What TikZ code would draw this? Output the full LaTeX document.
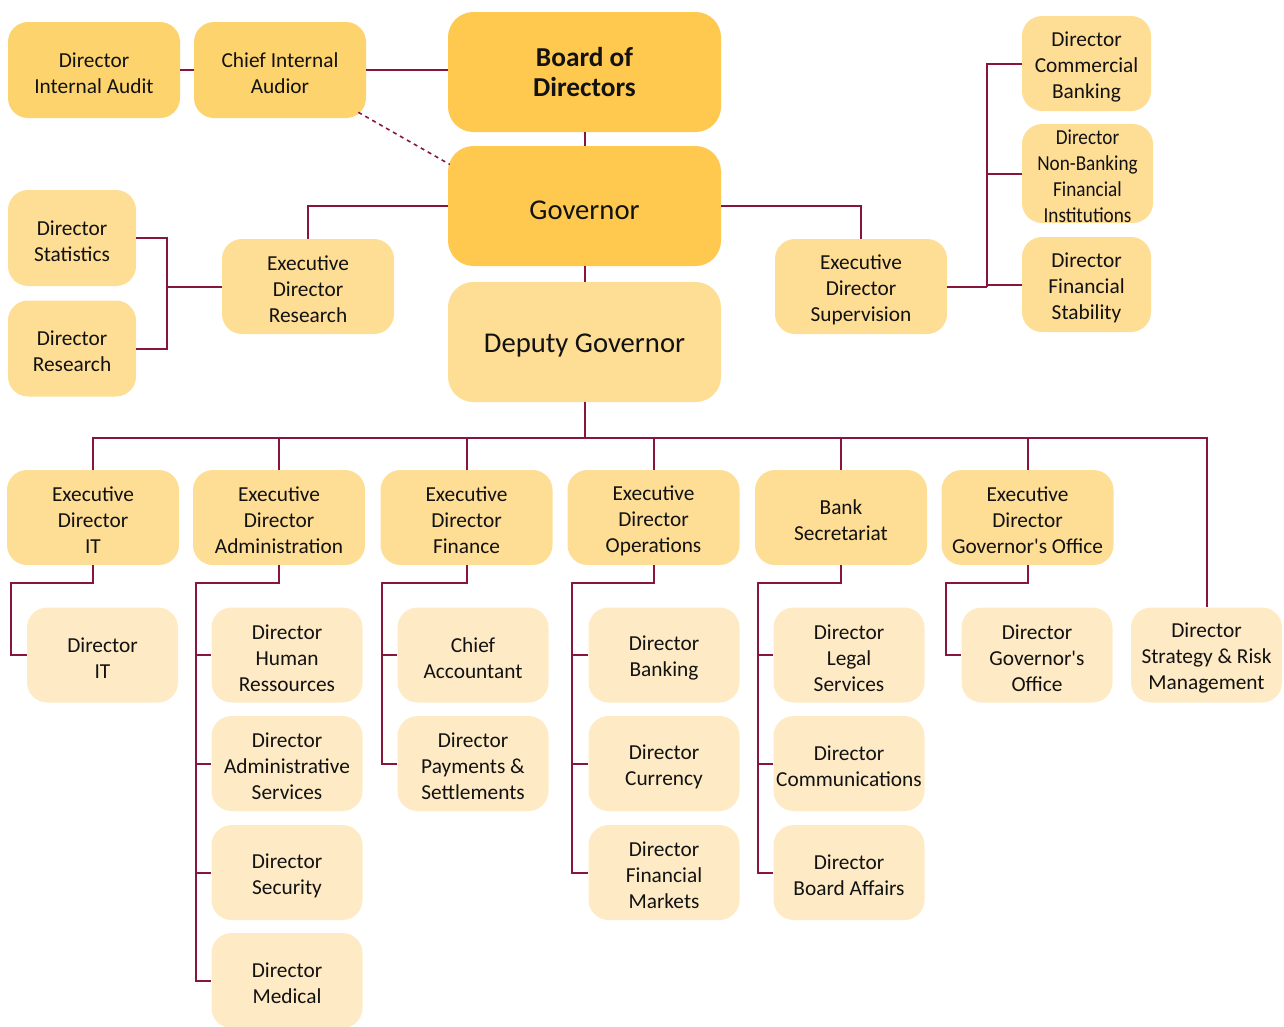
\documentclass[tikz,border=0pt]{standalone}
\usepackage{fontspec}
\setmainfont{Carlito}
\newfontfamily\condfont[FakeStretch=0.9]{Carlito}
\definecolor{cAfill}{HTML}{FFC94F}
\definecolor{cBfill}{HTML}{FDD36D}
\definecolor{cCfill}{HTML}{FEDD95}
\definecolor{cDfill}{HTML}{FEEBC5}
\definecolor{linecol}{HTML}{861640}
\definecolor{txt}{HTML}{121212}
\newcommand{\apo}{\textquotesingle}
\newcommand{\st}{\rule{0pt}{15.5pt}}
\begin{document}
\begin{tikzpicture}[x=0.75pt,y=-0.75pt,
  box/.style={rectangle,rounded corners=15pt,align=center,inner sep=0pt,text=txt,
    font=\fontsize{16}{19.5}\selectfont},
  bigtext/.style={font=\fontsize{21.5}{24}\selectfont,execute at begin node={\rule{0pt}{0.92em}}},
  cA/.style={fill=cAfill},
  cB/.style={fill=cBfill},
  cC/.style={fill=cCfill},
  cD/.style={fill=cDfill},
  big/.style={minimum width=204.75pt,minimum height=90pt,rounded corners=19pt},
  topbox/.style={minimum width=129pt,minimum height=72pt},
  small/.style={minimum width=96pt,minimum height=72pt},
  edbox/.style={minimum width=129pt,minimum height=71.25pt},
  dirbox/.style={minimum width=113.25pt,minimum height=71.25pt},
  conn/.style={draw=linecol,line width=1.5pt},
  dconn/.style={draw=linecol,line width=1.2pt,dashed}]
\useasboundingbox (0,0) rectangle (1284,1026);

% top row
\node[box,cB,topbox] (dia) at (94,70) {\st Director\\Internal Audit};
\node[box,cB,topbox] (cia) at (280,70) {\st Chief Internal\\Audior};
\node[box,cA,big,font=\fontsize{20.5}{22.5}\selectfont\bfseries] (board) at (584.5,72) {Board of\\Directors};
\node[box,cA,big,bigtext] (gov) at (584.5,206) {Governor};
\node[box,cC,big,bigtext] (dep) at (584.5,342) {Deputy Governor};

% left group
\node[box,cC,small] (dstat) at (72,238) {\st Director\\Statistics};
\node[box,cC,small] (dres) at (72,348.5) {\st Director\\Research};
\node[box,cC,edbox] (edr) at (308,286.5) {\st Executive\\Director\\Research};

% right group
\node[box,cC,edbox] (eds) at (861,286.5) {\st Executive\\Director\\Supervision};
\node[box,cC,minimum width=96.75pt,minimum height=71.25pt] (dcb) at (1086.5,63.5) {\st Director\\Commercial\\Banking};
\node[box,cC,minimum width=98.25pt,minimum height=71.25pt,font=\condfont\fontsize{16}{19.5}\selectfont] (dnb) at (1087.5,173.5) {\st Director\\Non-Banking\\Financial\\Institutions};
\node[box,cC,minimum width=96.75pt,minimum height=71.25pt] (dfs) at (1086.5,284.5) {\st Director\\Financial\\Stability};

% executive row
\node[box,cC,edbox] (edit) at (93,517.5) {\st Executive\\Director\\IT};
\node[box,cC,edbox] (edadm) at (279,517.5) {\st Executive\\Director\\Administration};
\node[box,cC,edbox] (edfin) at (466.5,517.5) {\st Executive\\Director\\Finance};
\node[box,cC,edbox] (edops) at (653.5,517.5) {\st Executive\\Director\\Operations};
\node[box,cC,edbox] (bsec) at (841,517.5) {\st Bank\\Secretariat};
\node[box,cC,edbox] (edgo) at (1027.5,517.5) {\st Executive\\Director\\Governor\apo s Office};

% directors
\node[box,cD,dirbox] (dit) at (102.5,655) {\st Director\\IT};
\node[box,cD,dirbox] (dhr) at (287,655) {\st Director\\Human\\Ressources};
\node[box,cD,dirbox] (das) at (287,763.5) {\st Director\\Administrative\\Services};
\node[box,cD,dirbox] (dsec) at (287,872.5) {\st Director\\Security};
\node[box,cD,dirbox] (dmed) at (287,980.5) {\st Director\\Medical};
\node[box,cD,dirbox] (dca) at (473,655) {\st Chief\\Accountant};
\node[box,cD,dirbox] (dps) at (473,763.5) {\st Director\\Payments \&\\Settlements};
\node[box,cD,dirbox] (dbk) at (664,655) {\st Director\\Banking};
\node[box,cD,dirbox] (dcur) at (664,763.5) {\st Director\\Currency};
\node[box,cD,dirbox] (dfm) at (664,872.5) {\st Director\\Financial\\Markets};
\node[box,cD,dirbox] (dls) at (849,655) {\st Director\\Legal\\Services};
\node[box,cD,dirbox] (dcom) at (849,763.5) {\st Director\\Communications};
\node[box,cD,dirbox] (dba) at (849,872.5) {\st Director\\Board Affairs};
\node[box,cD,dirbox] (dgo) at (1037,655) {\st Director\\Governor\apo s\\Office};
\node[box,cD,dirbox] (dsr) at (1206.5,655) {\st Director\\Strategy \& Risk\\Management};

% trunk coordinates
\coordinate (tL) at (167,293);
\coordinate (tR) at (987,287);
\coordinate (bus) at (584.5,438);
\coordinate (tIT) at (11,583);
\coordinate (tAdm) at (196,583);
\coordinate (tFin) at (382,583);
\coordinate (tOps) at (572,583);
\coordinate (tSec) at (758,583);
\coordinate (tGo) at (946,583);

% top connectors
\draw[conn] (dia.east) -- (cia.west);
\draw[conn] (cia.east) -- (cia.east -| board.west);
\draw[dconn] ([xshift=-6pt,yshift=4.5pt]cia.south east) -- ([xshift=1.5pt,yshift=-14pt]gov.north west);
\draw[conn] (board.south) -- (gov.north);
\draw[conn] (gov.south) -- (dep.north);

% left
\draw[conn] (gov.west) -| (edr.north);
\draw[conn] (dstat.east) -| (tL) |- (dres.east);
\draw[conn] (edr.west) -- (edr.west -| tL);

% right
\draw[conn] (gov.east) -| (eds.north);
\draw[conn] (eds.east) -- (eds.east -| tR);
\draw[conn] (dcb.west) -| (tR);
\draw[conn] (dnb.west) -- (dnb.west -| tR);
\draw[conn] (dfs.west) -- (dfs.west -| tR);

% deputy bus
\draw[conn] (dep.south) -- (bus);
\draw[conn] (bus) -| (edit.north);
\draw[conn] (bus) -| (edadm.north);
\draw[conn] (bus) -| (edfin.north);
\draw[conn] (bus) -| (edops.north);
\draw[conn] (bus) -| (bsec.north);
\draw[conn] (bus) -| (edgo.north);
\draw[conn] (bus) -| (dsr.north);

% IT
\draw[conn] (edit.south) |- (tIT) |- (dit.west);
% Admin
\draw[conn] (edadm.south) |- (tAdm) |- (dmed.west);
\draw[conn] (tAdm) |- (dhr.west);
\draw[conn] (tAdm) |- (das.west);
\draw[conn] (tAdm) |- (dsec.west);
% Finance
\draw[conn] (edfin.south) |- (tFin) |- (dps.west);
\draw[conn] (tFin) |- (dca.west);
% Operations
\draw[conn] (edops.south) |- (tOps) |- (dfm.west);
\draw[conn] (tOps) |- (dbk.west);
\draw[conn] (tOps) |- (dcur.west);
% Secretariat
\draw[conn] (bsec.south) |- (tSec) |- (dba.west);
\draw[conn] (tSec) |- (dls.west);
\draw[conn] (tSec) |- (dcom.west);
% Governor's office
\draw[conn] (edgo.south) |- (tGo) |- (dgo.west);
\end{tikzpicture}
\end{document}
